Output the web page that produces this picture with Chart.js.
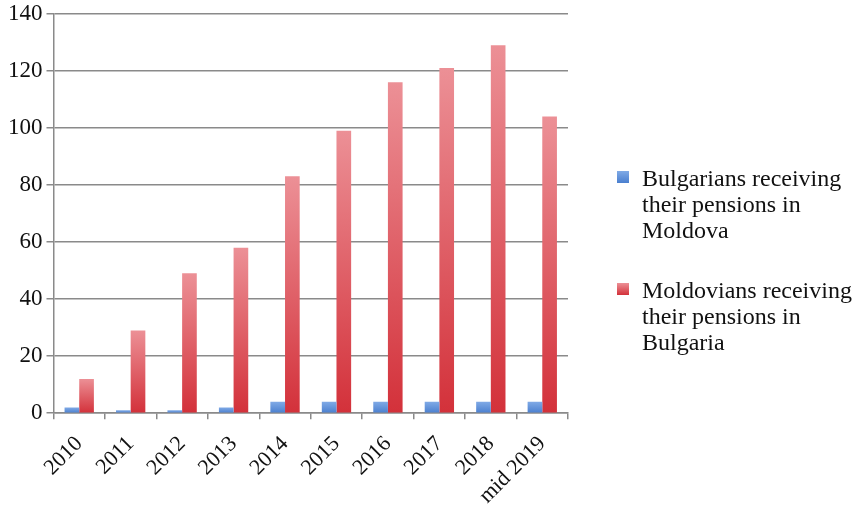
<!DOCTYPE html>
<html>
<head>
<meta charset="utf-8">
<script src="https://cdn.jsdelivr.net/npm/chart.js@4/dist/chart.umd.min.js"></script>
<style>
  html, body { margin: 0; padding: 0; background: #fff; }
  #wrap { width: 856px; height: 506px; position: relative; }
  #legend { position: absolute; left: 617px; top: 165px; font-family: 'Liberation Serif', 'DejaVu Serif', serif;
            font-size: 24px; line-height: 26px; color: #111; }
  .item { display: flex; align-items: flex-start; margin-bottom: 34px; }
  .sw { width: 12px; height: 12px; margin-top: 6px; margin-right: 13px; flex: none; }
  .txt { white-space: nowrap; }
</style>
</head>
<body>
<div id="wrap">
  <canvas id="c" width="856" height="506"></canvas>
  <div id="legend"></div>
</div>
<script>
// Pension recipients by year
const categories = ['2010', '2011', '2012', '2013', '2014', '2015', '2016', '2017', '2018', 'mid 2019'];
const bulgariansInMoldova = [2, 1, 1, 2, 4, 4, 4, 4, 4, 4];
const moldoviansInBulgaria = [12, 29, 49, 58, 83, 99, 116, 121, 129, 104];
const yTicks = [0, 20, 40, 60, 80, 100, 120, 140];

const seriesLabels = [
  ['Bulgarians receiving', 'their pensions in', 'Moldova'],
  ['Moldovians receiving', 'their pensions in', 'Bulgaria']
];
const seriesColors = [
  { top: '#80aae6', bottom: '#4a7fcf' },
  { top: '#ec9096', bottom: '#d3313a' }
];

// Vertical gradient spanning each bar, lighter at the top
function barGradient(topColor, bottomColor) {
  return function (ctx) {
    const chart = ctx.chart;
    const y = chart.scales && chart.scales.y;
    if (ctx.type !== 'data' || !y || !chart.chartArea) return bottomColor;
    const top = y.getPixelForValue(ctx.raw);
    const bottom = y.getPixelForValue(0);
    if (!isFinite(top) || !isFinite(bottom) || top === bottom) return bottomColor;
    const g = chart.ctx.createLinearGradient(0, top, 0, bottom);
    g.addColorStop(0, topColor);
    g.addColorStop(1, bottomColor);
    return g;
  };
}

const serif = "'Liberation Serif', 'DejaVu Serif', serif";

const chart = new Chart(document.getElementById('c'), {
  type: 'bar',
  data: {
    labels: categories,
    datasets: [
      {
        label: seriesLabels[0].join(' '),
        data: bulgariansInMoldova,
        backgroundColor: barGradient(seriesColors[0].top, seriesColors[0].bottom)
      },
      {
        label: seriesLabels[1].join(' '),
        data: moldoviansInBulgaria,
        backgroundColor: barGradient(seriesColors[1].top, seriesColors[1].bottom)
      }
    ]
  },
  options: {
    responsive: false,
    animation: false,
    devicePixelRatio: 1,
    layout: { padding: { left: 4, right: 288, top: 0, bottom: -15 } },
    datasets: {
      bar: { categoryPercentage: 0.57, barPercentage: 1.0, borderWidth: 0 }
    },
    scales: {
      x: {
        grid: {
          display: true,
          drawOnChartArea: false,
          drawTicks: true,
          tickLength: 6,
          color: '#8a8a8a',
          lineWidth: 1.5,
          offset: true
        },
        border: { display: true, color: '#8a8a8a', width: 1.5 },
        ticks: {
          color: '#111',
          font: { family: serif, size: 22 },
          maxRotation: 45,
          minRotation: 45,
          padding: 12
        }
      },
      y: {
        min: 0,
        max: 140,
        afterBuildTicks: (axis) => { axis.ticks = yTicks.map(v => ({ value: v })); },
        grid: {
          color: '#8a8a8a',
          lineWidth: 1.5,
          tickLength: 7
        },
        border: { display: true, color: '#8a8a8a', width: 1.5 },
        ticks: {
          color: '#111',
          font: { family: serif, size: 23, lineHeight: 0.85 },
          padding: 4
        }
      }
    },
    plugins: {
      tooltip: { enabled: false },
      legend: { display: false }
    }
  }
});

// Legend to the right of the plot, each entry wrapped over three lines
const legendEl = document.getElementById('legend');
seriesLabels.forEach((lines, i) => {
  const item = document.createElement('div');
  item.className = 'item';
  const sw = document.createElement('span');
  sw.className = 'sw';
  sw.style.background = 'linear-gradient(' + seriesColors[i].top + ', ' + seriesColors[i].bottom + ')';
  const txt = document.createElement('div');
  txt.className = 'txt';
  lines.forEach((line, j) => {
    if (j) txt.appendChild(document.createElement('br'));
    txt.appendChild(document.createTextNode(line));
  });
  item.appendChild(sw);
  item.appendChild(txt);
  legendEl.appendChild(item);
});
</script>
</body>
</html>
